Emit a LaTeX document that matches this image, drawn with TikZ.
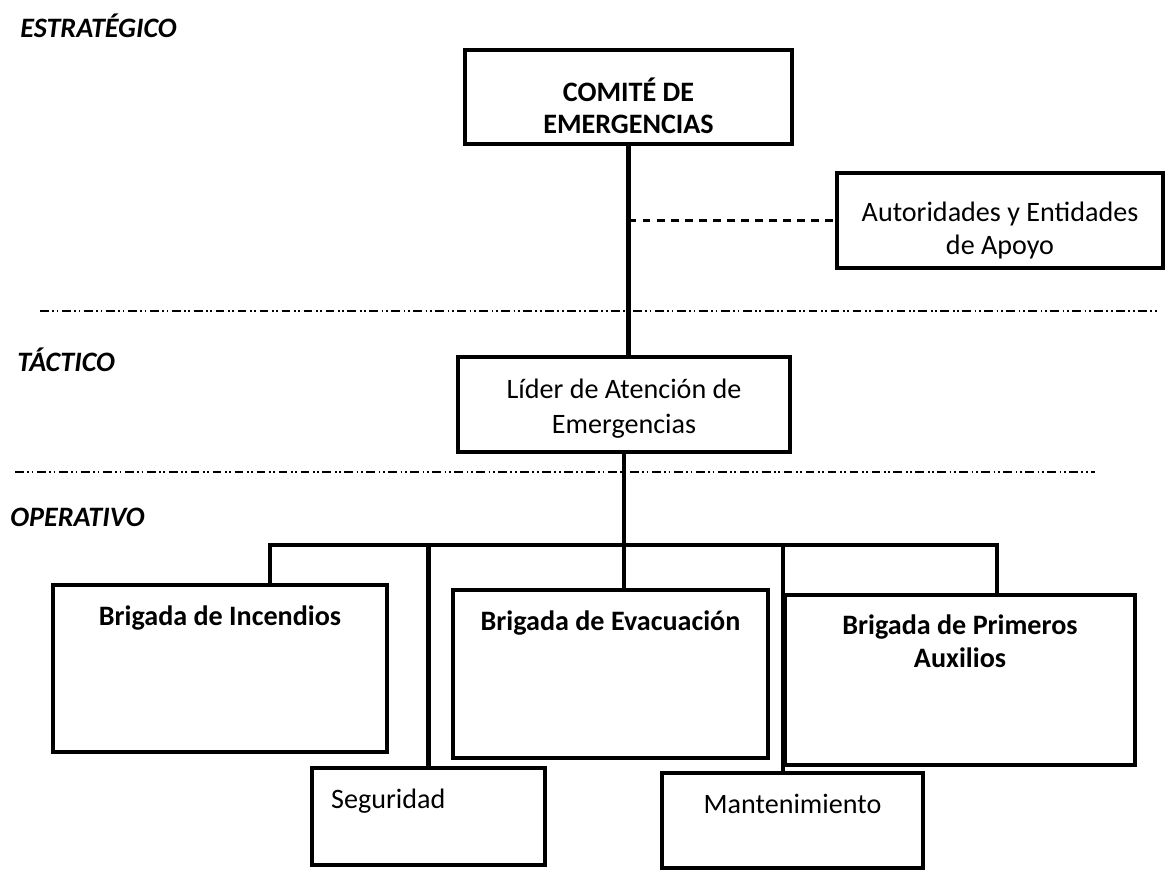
\documentclass[tikz,border=0pt]{standalone}
\usepackage{fontspec}
\setmainfont{Carlito}
\usetikzlibrary{positioning}
\newcommand{\orgfont}{\fontsize{16}{18.5}\selectfont}
\tikzstyle{orgbox}=[draw=black,line width=2.5pt,inner sep=0pt]
\tikzstyle{boxtext}=[inner sep=0pt,align=center,font=\orgfont]
\tikzstyle{levellabel}=[anchor=west,inner sep=0pt,font=\orgfont\bfseries\itshape]
\tikzstyle{link}=[line width=2.4pt]
\tikzstyle{dashlink}=[line width=1.2pt,dash pattern=on 4.5pt off 3.5pt]
\tikzstyle{sepline}=[line width=1pt,dash pattern=on 5pt off 2pt on 1pt off 1.5pt on 1pt off 2pt]

\begin{document}
\begin{tikzpicture}[x=0.02cm,y=-0.02cm]
  \useasboundingbox (0,0) rectangle (1169,874);
  % niveles
  \node[levellabel] (estrategico) at (20,26) {ESTRATÉGICO};
  \node[levellabel] (tactico) at (17,360) {TÁCTICO};
  \node[levellabel] (operativo) at (10,517) {OPERATIVO};
  \draw[sepline] (40,311) -- (1160,311);
  \draw[sepline] (15,472) -- (1095,472);

  % estrategico y tactico
  \node[orgbox,minimum width=6.54cm,minimum height=1.88cm] (comite) at (628.5,97) {};
  \node[boxtext,font=\orgfont\bfseries] (comiteT) at ([yshift=-0.18cm]comite.center) {COMITÉ DE\\EMERGENCIAS};
  \node[orgbox,minimum width=6.52cm,minimum height=1.9cm] (autoridades) at (1000,220.5) {};
  \node[boxtext] (autoridadesT) at ([yshift=-0.2cm]autoridades.center) {Autoridades y Entidades\\de Apoyo};
  \node[orgbox,minimum width=6.64cm,minimum height=1.9cm] (lider) at (624,404.5) {};
  \node[boxtext] (liderT) at ([yshift=-0.08cm]lider.center) {Líder de Atención de\\[1.5pt]Emergencias};

  % operativo
  \node[orgbox,minimum width=6.68cm,minimum height=3.34cm] (incendios) at (220,668.5) {};
  \node[boxtext,font=\orgfont\bfseries,below=0.46cm of incendios.north] (incendiosT) {Brigada de Incendios};
  \node[orgbox,minimum width=6.3cm,minimum height=3.36cm] (evacuacion) at (610.5,674) {};
  \node[boxtext,font=\orgfont\bfseries,below=0.46cm of evacuacion.north] (evacuacionT) {Brigada de Evacuación};
  \node[orgbox,minimum width=7cm,minimum height=3.4cm] (primeros) at (960,680) {};
  \node[boxtext,font=\orgfont\bfseries,below=0.44cm of primeros.north] (primerosT) {Brigada de Primeros\\Auxilios};
  \node[orgbox,minimum width=4.66cm,minimum height=1.94cm] (seguridad) at (428.5,816.5) {};
  \node[boxtext,below right=0.46cm and 0.42cm of seguridad.north west] (seguridadT) {Seguridad};
  \node[orgbox,minimum width=5.22cm,minimum height=1.9cm] (mantenimiento) at (792.5,820.5) {};
  \node[boxtext,below=0.46cm of mantenimiento.north] (mantenimientoT) {Mantenimiento};

  % conexiones
  \draw[link] (comite.south) -- (comite.south |- lider.north);
  \draw[dashlink] (comite.south |- autoridades.west) -- (autoridades.west);
  \draw[link] (lider.south) -- (lider.south |- evacuacion.north);
  \coordinate (busL) at (270,545);
  \coordinate (busR) at (997,545);
  \draw[link] (incendios.north -| busL) -- (busL) -- (busR) -- (busR |- primeros.north);
  \draw[link] (seguridad.north |- busL) -- (seguridad.north);
  \draw[link] (primeros.west |- busL) -- (primeros.west |- mantenimiento.north);
\end{tikzpicture}
\end{document}
